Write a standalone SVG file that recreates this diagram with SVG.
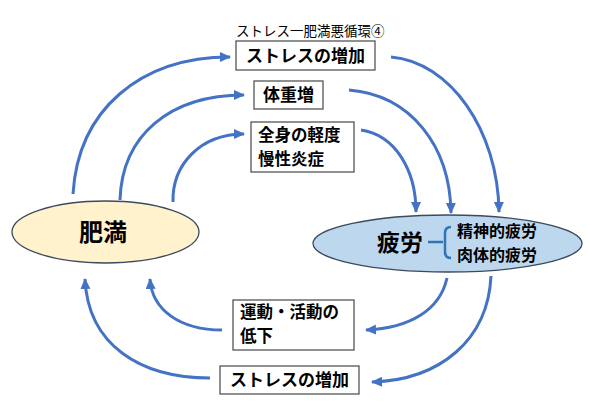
<svg xmlns="http://www.w3.org/2000/svg" width="589" height="420" viewBox="0 0 589 420">
<style>
text{font-family:"Noto Sans CJK JP","Noto Sans",sans-serif;fill:#000}
.box{fill:#fff;stroke:#555;stroke-width:1.3}
.bt{font-size:17px;font-weight:bold}
.bt2{font-size:16.5px;font-weight:bold}
.arr{fill:none;stroke:#4472C4;stroke-width:3;marker-end:url(#ah)}
</style>
<defs>
<marker id="ah" markerUnits="userSpaceOnUse" markerWidth="12" markerHeight="12" viewBox="0 0 12 12" refX="10" refY="6" orient="auto">
<path d="M0,1 L11,6 L0,11 Z" fill="#4472C4"/>
</marker>
</defs>
<rect width="589" height="420" fill="#fff"/>
<text x="236" y="36" font-size="13.5">ストレス一肥満悪循環④</text>
<g id="connectors">
<path class="arr" d="M73,194 C78,110 140,57 230,57"/>
<path class="arr" d="M120,200 C122,135 170,95 244,95"/>
<path class="arr" d="M173,202 C172,165 200,134 244,134"/>
<path class="arr" d="M391,57 C450,62 498,130 499,212"/>
<path class="arr" d="M349,90 C410,95 450,145 451,213"/>
<path class="arr" d="M361,130 C395,135 416,170 416,212"/>
<path class="arr" d="M447,278 C440,310 410,328 366,330"/>
<path class="arr" d="M491,276 C488,340 440,380 372,382"/>
<path class="arr" d="M222,330 C180,330 152,310 150,279"/>
<path class="arr" d="M210,378 C140,378 88,345 85,279"/>
</g>
<g id="stress-top">
<rect class="box" x="236" y="41" width="139" height="29"/>
<text class="bt" x="305.5" y="62" text-anchor="middle">ストレスの増加</text>
</g>
<g id="weight">
<rect class="box" x="254" y="81" width="69" height="28"/>
<text class="bt" x="288.5" y="101" text-anchor="middle">体重増</text>
</g>
<g id="inflammation">
<rect class="box" x="251" y="122" width="103" height="50"/>
<text class="bt2" x="258" y="141">全身の軽度</text>
<text class="bt2" x="258" y="165">慢性炎症</text>
</g>
<g id="obesity">
<ellipse cx="105.5" cy="232" rx="93.5" ry="31" fill="#FFF2CC" stroke="#3C4A5C" stroke-width="1.3"/>
<text x="103" y="240.5" font-size="24" font-weight="bold" text-anchor="middle">肥満</text>
</g>
<g id="fatigue">
<ellipse cx="447.5" cy="243.5" rx="134.5" ry="28.5" fill="#BDD7EE" stroke="#3C4A5C" stroke-width="1.3"/>
<text x="400" y="251" font-size="23" font-weight="bold" text-anchor="middle">疲労</text>
<path d="M428,242 H443 M451,227 Q445,227 445,233 V252 Q445,258 451,258" fill="none" stroke="#2E75B6" stroke-width="2.5"/>
<text x="457" y="237" font-size="16" font-weight="bold">精神的疲労</text>
<text x="457" y="261" font-size="16" font-weight="bold">肉体的疲労</text>
</g>
<g id="activity">
<rect class="box" x="233" y="300" width="121" height="50"/>
<text class="bt2" x="240" y="318">運動・活動の</text>
<text class="bt2" x="240" y="342">低下</text>
</g>
<g id="stress-bottom">
<rect class="box" x="220" y="366" width="139" height="28"/>
<text class="bt" x="289.5" y="386" text-anchor="middle">ストレスの増加</text>
</g>
</svg>
